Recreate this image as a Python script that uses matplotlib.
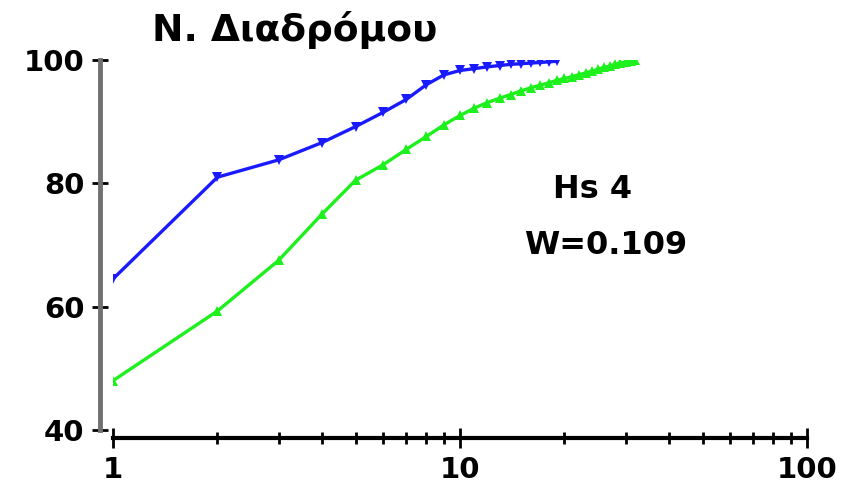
import matplotlib
matplotlib.use("Agg")
import matplotlib.pyplot as plt
from matplotlib.ticker import LogLocator, NullFormatter, FixedLocator, FixedFormatter

blue_x = list(range(1, 20))
blue_y = [64.5, 81.0, 83.8, 86.6, 89.2, 91.5, 93.6, 96.0, 97.6, 98.3,
          98.6, 98.9, 99.1, 99.3, 99.4, 99.5, 99.6, 99.7, 99.8]
green_x = list(range(1, 33))
green_y = [48.0, 59.3, 67.5, 75.0, 80.5, 83.0, 85.5, 87.6, 89.5, 91.0,
           92.2, 93.1, 93.8, 94.4, 95.0, 95.5, 95.9, 96.3, 96.7, 97.0,
           97.3, 97.6, 97.9, 98.2, 98.5, 98.8, 99.0, 99.3, 99.5, 99.7,
           99.9, 100.0]
x_ticks = [1, 10, 100]
x_tick_labels = ["1", "10", "100"]
y_ticks = [40, 60, 80, 100]
title = "N. Διαδρόμου"
note_lines = ["Hs 4", "W=0.109"]

fig = plt.figure(figsize=(8.46, 4.92), dpi=100)
ax = fig.add_axes([113/846, 62/492, (807-113)/846, (430-60)/492])

ax.plot(blue_x, blue_y, color="#1a1aff", lw=2.4, marker="v", ms=6.5, mew=0)
ax.plot(green_x, green_y, color="#1df01d", lw=2.4, marker="^", ms=6.5, mew=0)

ax.set_xscale("log")
ax.set_xlim(1, 100)
ax.set_ylim(40, 100)

for s in ["top", "right"]:
    ax.spines[s].set_visible(False)
ax.spines["left"].set_position(("outward", 9.4))
ax.spines["bottom"].set_position(("outward", 5.8))
ax.spines["left"].set_color("#707070")
ax.spines["left"].set_linewidth(3.5)
ax.spines["bottom"].set_color("black")
ax.spines["bottom"].set_linewidth(3)

ax.xaxis.set_major_locator(FixedLocator(x_ticks))
ax.xaxis.set_major_formatter(FixedFormatter(x_tick_labels))
ax.xaxis.set_minor_locator(LogLocator(base=10, subs=range(2, 10)))
ax.xaxis.set_minor_formatter(NullFormatter())
ax.set_yticks(y_ticks)

ax.tick_params(axis="x", which="major", direction="inout", length=14, width=2,
               color="black", pad=6, labelsize=21)
ax.tick_params(axis="x", which="minor", direction="inout", length=8, width=2,
               color="black")
ax.tick_params(axis="y", which="major", direction="inout", length=12, width=2,
               color="black", pad=5, labelsize=21)
for lab in ax.get_xticklabels() + ax.get_yticklabels():
    lab.set_fontfamily("DejaVu Sans")
    lab.set_fontweight("bold")

fig.text(295/846, 1 - 30/492, title, ha="center", va="center",
         fontsize=27, fontweight="bold", family="DejaVu Sans")
fig.text(593/846, 1 - 190/492, note_lines[0], ha="center", va="center",
         fontsize=23, fontweight="bold", family="DejaVu Sans")
fig.text(606/846, 1 - 245/492, note_lines[1], ha="center", va="center",
         fontsize=23, fontweight="bold", family="DejaVu Sans")

fig.savefig("out.png", dpi=100)
